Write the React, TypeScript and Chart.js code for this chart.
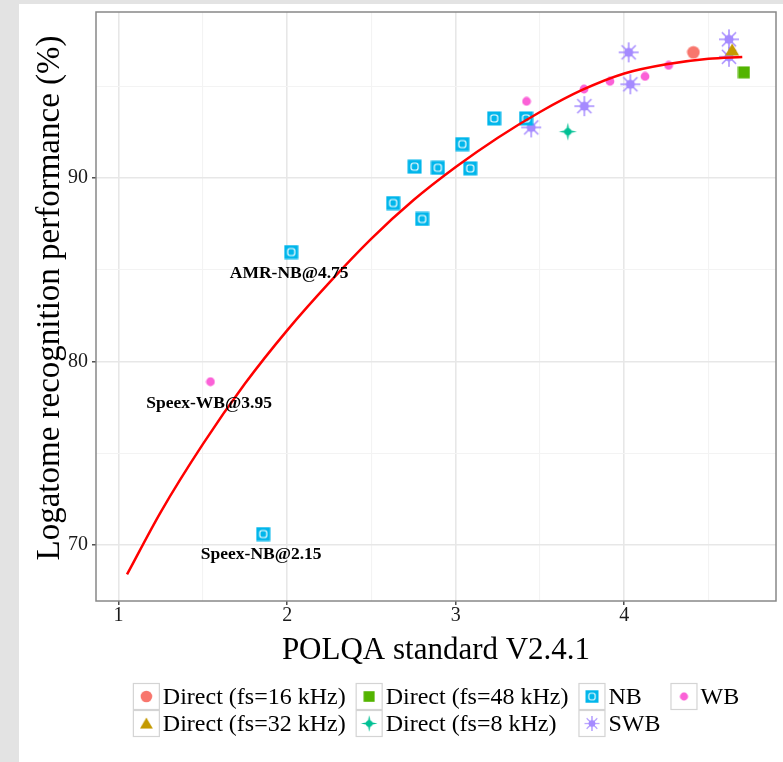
import React, { useEffect, useRef } from 'react';
import { Chart, registerables } from 'chart.js';

Chart.register(...registerables);

const FONT = '"Liberation Serif", "Times New Roman", serif';

// ---- data ----
const xTicksMajor = [1, 2, 3, 4];
const xTicksMinor = [1.5, 2.5, 3.5, 4.5];
const yTicksMajor = [70, 80, 90];
const yTicksMinor = [75, 85, 95];

const direct16X = [4.41];
const direct16Y = [96.85];
const direct32X = [4.64];
const direct32Y = [96.98];
const direct48X = [4.71];
const direct48Y = [95.76];
const direct8X = [3.665];
const direct8Y = [92.53];
const nbX = [1.858, 2.024, 2.629, 2.801, 2.756, 2.894, 3.086, 3.039, 3.228, 3.417];
const nbY = [70.6, 85.97, 88.64, 87.77, 90.62, 90.56, 90.53, 91.85, 93.25, 93.25];
const swbX = [3.448, 3.763, 4.026, 4.036, 4.621, 4.621];
const swbY = [92.76, 93.92, 96.85, 95.11, 97.56, 96.61];
const wbX = [1.545, 3.42, 3.761, 3.915, 4.123, 4.263];
const wbY = [78.9, 94.18, 94.85, 95.27, 95.54, 96.14];

const fitX = [1.05, 1.25, 1.5, 1.75, 2.0, 2.25, 2.5, 2.75, 3.0, 3.25, 3.5, 3.75, 4.0, 4.25, 4.5, 4.7];
const fitY = [68.4, 71.8, 75.5, 78.8, 81.7, 84.3, 86.7, 88.8, 90.6, 92.2, 93.6, 94.8, 95.7, 96.2, 96.5, 96.6];

const labelTexts = ['AMR-NB@4.75', 'Speex-WB@3.95', 'Speex-NB@2.15'];
const labelX = [2.012, 1.537, 1.846];
const labelY = [84.82, 77.74, 69.46];

const seriesNames = [
  'Direct (fs=16 kHz)',
  'Direct (fs=32 kHz)',
  'Direct (fs=48 kHz)',
  'Direct (fs=8 kHz)',
  'NB',
  'SWB',
  'WB',
];
const seriesColors = ['#F8766D', '#C49A00', '#53B400', '#00C094', '#00B6EB', '#A58AFF', '#FB61D7'];

// ---- marker images ----
function mk(size: number, draw: (c: CanvasRenderingContext2D, m: number) => void) {
  const cv = document.createElement('canvas');
  cv.width = size;
  cv.height = size;
  const c = cv.getContext('2d')!;
  draw(c, size / 2);
  return cv;
}

function makeMarkers() {
  const circle16 = mk(14, (c, m) => {
    c.fillStyle = seriesColors[0];
    c.beginPath();
    c.arc(m, m, 6.3, 0, Math.PI * 2);
    c.fill();
  });
  const tri32 = mk(16, (c, m) => {
    c.fillStyle = seriesColors[1];
    c.beginPath();
    c.moveTo(m, 1.5);
    c.lineTo(15, 13.5);
    c.lineTo(1, 13.5);
    c.closePath();
    c.fill();
  });
  const sq48 = mk(13, (c) => {
    c.fillStyle = seriesColors[2];
    c.fillRect(0.5, 0.5, 12, 12);
  });
  const star8 = mk(19, (c, m) => {
    c.fillStyle = seriesColors[3];
    c.beginPath();
    for (let k = 0; k < 8; k++) {
      const a = (k * Math.PI) / 4 - Math.PI / 2;
      const r = k % 2 === 0 ? 9 : 2.2;
      const px = m + r * Math.cos(a);
      const py = m + r * Math.sin(a);
      if (k === 0) c.moveTo(px, py);
      else c.lineTo(px, py);
    }
    c.closePath();
    c.fill();
    c.beginPath();
    c.arc(m, m, 3.6, 0, Math.PI * 2);
    c.fill();
  });
  const nb = mk(15, (c) => {
    c.fillStyle = seriesColors[4];
    c.fillRect(0.5, 0.5, 14, 14);
    c.strokeStyle = '#ffffff';
    c.lineWidth = 1.2;
    const x0 = 4, y0 = 4, w = 7, h = 7, r = 2.2;
    c.beginPath();
    c.moveTo(x0 + r, y0);
    c.lineTo(x0 + w - r, y0);
    c.quadraticCurveTo(x0 + w, y0, x0 + w, y0 + r);
    c.lineTo(x0 + w, y0 + h - r);
    c.quadraticCurveTo(x0 + w, y0 + h, x0 + w - r, y0 + h);
    c.lineTo(x0 + r, y0 + h);
    c.quadraticCurveTo(x0, y0 + h, x0, y0 + h - r);
    c.lineTo(x0, y0 + r);
    c.quadraticCurveTo(x0, y0, x0 + r, y0);
    c.stroke();
  });
  const swb = mk(22, (c, m) => {
    c.strokeStyle = seriesColors[5];
    c.fillStyle = seriesColors[5];
    c.lineWidth = 1.5;
    for (let k = 0; k < 4; k++) {
      const a = (k * Math.PI) / 4;
      c.beginPath();
      c.moveTo(m - 10 * Math.cos(a), m - 10 * Math.sin(a));
      c.lineTo(m + 10 * Math.cos(a), m + 10 * Math.sin(a));
      c.stroke();
    }
    c.beginPath();
    c.arc(m, m, 4.6, 0, Math.PI * 2);
    c.fill();
  });
  const wb = mk(10, (c, m) => {
    c.fillStyle = seriesColors[6];
    c.beginPath();
    c.arc(m, m, 4.4, 0, Math.PI * 2);
    c.fill();
  });
  return [circle16, tri32, sq48, star8, nb, swb, wb];
}

const toPts = (xs: number[], ys: number[]) => xs.map((x, i) => ({ x, y: ys[i] }));

export default function App() {
  const ref = useRef<HTMLCanvasElement | null>(null);

  useEffect(() => {
    if (!ref.current) return;
    const markers = makeMarkers();
    const seriesX = [direct16X, direct32X, direct48X, direct8X, nbX, swbX, wbX];
    const seriesY = [direct16Y, direct32Y, direct48Y, direct8Y, nbY, swbY, wbY];

    const pointSets: any[] = seriesNames.map((name, i) => ({
      type: 'scatter',
      label: name,
      data: toPts(seriesX[i], seriesY[i]),
      pointStyle: markers[i],
      pointRadius: 6,
      backgroundColor: seriesColors[i],
      borderColor: seriesColors[i],
      order: 1,
    }));

    const fitSet: any = {
      type: 'line',
      label: 'fit',
      data: toPts(fitX, fitY),
      borderColor: '#ff0000',
      borderWidth: 2.5,
      pointRadius: 0,
      fill: false,
      tension: 0.4,
      cubicInterpolationMode: 'monotone',
      order: -1,
    };

    const decor = {
      id: 'decor',
      afterDatasetsDraw(chart: any) {
        const { ctx, chartArea, scales } = chart;
        ctx.save();
        // annotations
        ctx.font = `bold 17.5px ${FONT}`;
        ctx.fillStyle = '#000';
        ctx.textAlign = 'center';
        ctx.textBaseline = 'middle';
        labelTexts.forEach((t, i) => {
          ctx.fillText(t, scales.x.getPixelForValue(labelX[i]), scales.y.getPixelForValue(labelY[i]));
        });
        // panel border
        ctx.strokeStyle = '#888888';
        ctx.lineWidth = 1.5;
        ctx.strokeRect(chartArea.left, chartArea.top, chartArea.right - chartArea.left, chartArea.bottom - chartArea.top);
        ctx.restore();
      },
      afterDraw(chart: any) {
        const { ctx, chartArea } = chart;
        ctx.save();
        // axis titles
        ctx.fillStyle = '#000';
        ctx.font = `31px ${FONT}`;
        ctx.textAlign = 'center';
        ctx.textBaseline = 'middle';
        ctx.fillText('POLQA standard V2.4.1', (chartArea.left + chartArea.right) / 2, 647);
        ctx.save();
        ctx.translate(40, 294);
        ctx.rotate(-Math.PI / 2);
        ctx.font = `33px ${FONT}`;
        ctx.textBaseline = 'alphabetic';
        ctx.fillText('Logatome recognition performance (%)', 0, 0);
        ctx.restore();

        // legend (2 rows, filled column by column)
        const order = [0, 1, 2, 3, 4, 5, 6];
        const rows = 2;
        const box = 27;
        const textGap = 3;
        const colGap = 10;
        ctx.font = `24px ${FONT}`;
        const cols: number[][] = [];
        for (let i = 0; i < order.length; i += rows) cols.push(order.slice(i, i + rows));
        const colW = cols.map((col) => box + textGap + Math.max(...col.map((k) => ctx.measureText(seriesNames[k]).width)));
        const total = colW.reduce((a, b) => a + b, 0) + colGap * (cols.length - 1);
        let x = (chartArea.left + chartArea.right) / 2 - total / 2;
        const top = 679;
        cols.forEach((col, ci) => {
          col.forEach((k, ri) => {
            const by = top + ri * box;
            ctx.fillStyle = '#fff';
            ctx.fillRect(x, by, box, box);
            ctx.strokeStyle = '#d4d4d4';
            ctx.lineWidth = 1.2;
            ctx.strokeRect(x + 0.5, by + 0.5, box - 1, box - 1);
            const mImg = markers[k];
            const s = k === 5 ? 0.75 : 0.92;
            ctx.drawImage(mImg, x + box / 2 - (mImg.width * s) / 2, by + box / 2 - (mImg.height * s) / 2, mImg.width * s, mImg.height * s);
            ctx.fillStyle = '#000';
            ctx.textAlign = 'left';
            ctx.textBaseline = 'middle';
            ctx.fillText(seriesNames[k], x + box + textGap, by + box / 2 + 1);
          });
          x += colW[ci] + colGap;
        });
        ctx.restore();
      },
    };

    const majorGrid = '#e7e7e7';
    const minorGrid = '#f3f3f3';

    const chart = new Chart(ref.current, {
      type: 'scatter',
      data: { datasets: [fitSet, ...pointSets] },
      options: {
        animation: false,
        responsive: false,
        maintainAspectRatio: false,
        layout: { padding: { left: 0, top: 8, right: 7, bottom: 91 } },
        plugins: { legend: { display: false }, tooltip: { enabled: false } },
        scales: {
          x: {
            type: 'linear',
            min: 0.866,
            max: 4.9,
            afterBuildTicks: (s: any) => {
              s.ticks = [...xTicksMajor, ...xTicksMinor].sort((a, b) => a - b).map((v) => ({ value: v }));
            },
            afterFit: (s: any) => {
              s.height = 70;
              s.paddingLeft = 0;
              s.paddingRight = 0;
              s.paddingTop = 0;
              s.paddingBottom = 0;
            },
            border: { display: false },
            grid: {
              color: (c: any) => (xTicksMajor.includes(c.tick?.value) ? majorGrid : minorGrid),
              lineWidth: (c: any) => (xTicksMajor.includes(c.tick?.value) ? 1.6 : 1.1),
              tickColor: (c: any) => (xTicksMajor.includes(c.tick?.value) ? '#333' : 'rgba(0,0,0,0)'),
              tickLength: 4,
              tickWidth: 1.3,
            },
            ticks: {
              padding: 1,
              color: '#1a1a1a',
              font: { family: FONT, size: 20, lineHeight: 1 },
              maxRotation: 0,
              autoSkip: false,
              callback: (v: any) => (xTicksMajor.includes(Number(v)) ? String(v) : ''),
            },
          },
          y: {
            type: 'linear',
            min: 66.95,
            max: 99.05,
            afterBuildTicks: (s: any) => {
              s.ticks = [...yTicksMajor, ...yTicksMinor].sort((a, b) => a - b).map((v) => ({ value: v }));
            },
            afterFit: (s: any) => {
              s.width = 77;
              s.paddingLeft = 0;
              s.paddingRight = 0;
              s.paddingTop = 0;
              s.paddingBottom = 0;
            },
            border: { display: false },
            grid: {
              color: (c: any) => (yTicksMajor.includes(c.tick?.value) ? majorGrid : minorGrid),
              lineWidth: (c: any) => (yTicksMajor.includes(c.tick?.value) ? 1.6 : 1.1),
              tickColor: (c: any) => (yTicksMajor.includes(c.tick?.value) ? '#333' : 'rgba(0,0,0,0)'),
              tickLength: 4,
              tickWidth: 1.3,
            },
            ticks: {
              padding: 4,
              color: '#1a1a1a',
              font: { family: FONT, size: 20, lineHeight: 1 },
              autoSkip: false,
              callback: (v: any) => (yTicksMajor.includes(Number(v)) ? String(v) : ''),
            },
          },
        },
      } as any,
      plugins: [decor],
    });

    return () => chart.destroy();
  }, []);

  return (
    <div
      style={{
        position: 'absolute',
        left: 0,
        top: 0,
        width: 783,
        height: 762,
        background: '#e3e3e3',
        overflow: 'hidden',
      }}
    >
      <div style={{ position: 'absolute', left: 19, top: 4, width: 764, height: 758, background: '#ffffff' }}>
        <canvas ref={ref} width={764} height={758} style={{ display: 'block', width: 764, height: 758 }} />
      </div>
    </div>
  );
}
